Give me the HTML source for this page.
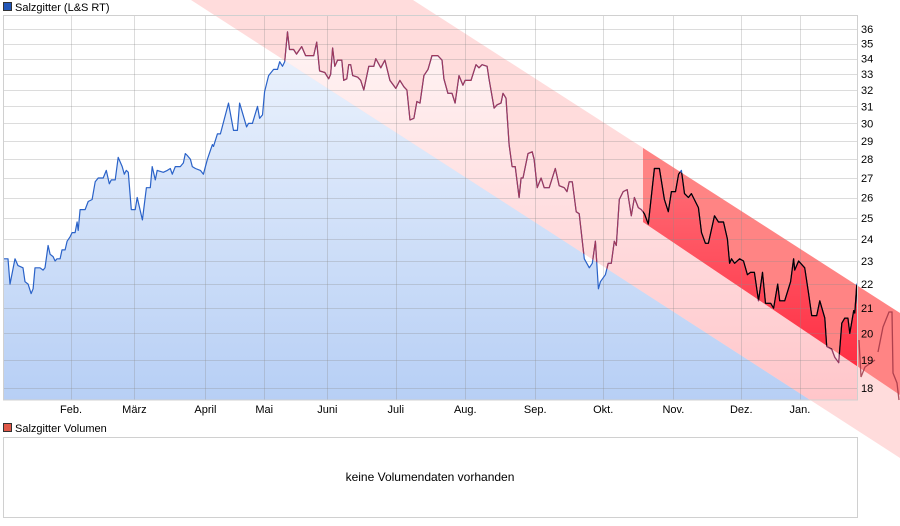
<!DOCTYPE html>
<html><head><meta charset="utf-8"><style>
html,body{margin:0;padding:0;background:#fff;}
svg{display:block;font-family:"Liberation Sans",Arial,sans-serif;}
</style></head><body>
<svg id="chart" width="900" height="526" viewBox="0 0 900 526" xmlns="http://www.w3.org/2000/svg">
<defs>
<clipPath id="plotClip"><rect x="3" y="16" width="855" height="384"/></clipPath>
<clipPath id="lightClip"><polygon points="413,0 900,313 900,458 191,0"/></clipPath>
<clipPath id="darkClip"><polygon points="643,148 900,313 900,395 643,222"/></clipPath>
<linearGradient id="blueGrad" gradientUnits="userSpaceOnUse" x1="0" y1="30" x2="0" y2="400"><stop offset="0" stop-color="#eef4fd"/><stop offset="1" stop-color="#b7cff5"/></linearGradient>
<linearGradient id="pinkGrad" gradientUnits="userSpaceOnUse" x1="0" y1="30" x2="0" y2="400"><stop offset="0" stop-color="#fff5f5"/><stop offset="1" stop-color="#ffc6ca"/></linearGradient>
<linearGradient id="redGrad" gradientUnits="userSpaceOnUse" x1="0" y1="160" x2="0" y2="380"><stop offset="0" stop-color="#ff7078"/><stop offset="1" stop-color="#ff2a40"/></linearGradient>
</defs>
<rect x="0" y="0" width="900" height="526" fill="#fff"/>
<g id="layers"></g>
<rect x="3.5" y="2.5" width="8" height="8" fill="#2256b8" stroke="#333"/>
<text x="15" y="11" font-size="11" fill="#000">Salzgitter (L&amp;S RT)</text>
<rect x="3.5" y="423.5" width="8" height="8" fill="#e05848" stroke="#333"/>
<text x="15" y="432" font-size="11" fill="#000">Salzgitter Volumen</text>
<rect x="3.5" y="437.5" width="854" height="80" fill="#fff" stroke="#d0d0d0"/>
<text x="430" y="481" font-size="12" text-anchor="middle" fill="#000">keine Volumendaten vorhanden</text>
</svg>
<script>
const priceT=[0,2.3,3.2,5.5,6.9,9.2,10.1,11.5,12.9,13.8,14.7,17,18.4,19.3,20.7,21.6,23,23.9,24.8,26.2,27.1,28.5,29.4,30.8,31.7,33.1,34,34.5,35.4,37.7,39.1,40.9,42.3,43.7,46,47.4,48.8,49.7,51.5,52.9,54.7,55.7,56.6,57.5,58.9,60.7,61.6,64,65.8,67.6,68.5,69.9,70.8,73.6,75.4,76.8,77.7,79.1,81.4,82.8,83.7,84.6,86,86.9,88.3,90.6,92,93.8,96.1,96.6,98.4,99.8,103.5,105.8,107.6,108.6,111.8,112.7,114.5,116.8,117.8,119.1,120.1,121.9,124.2,126,127,128.3,129.3,130.6,131.5,133.4,134.7,137.1,138.9,142.6,144,145.3,147.7,149.5,150.4,151.3,152.3,153.6,155.5,156.4,157.8,158.7,159.6,160.5,162.8,164.2,165.6,167.9,170.2,171.1,173.4,175.3,177.6,180.3,182.2,184,185.4,186.8,188.6,190,191.4,193.2,195.1,196.9,199.6,201.5,202.4,204.2,206.1,207.5,209.3,211.1,212.1,214.8,217.1,218.5,219.9,222.2,223.1,225.4,226.8,228.6,229.5,230.9,232.3,233.7,235.1,236.9,237.8,238.7,241,242.9,243.8,245.2,247,248.4,250.7,253.5,255.3,257.6,258.9,259.9,261.3,263.1,264.5,266.8,269.1,270.5,271.9,273.3,274.2,276.5,277.8,279.2,280.6,281.5,282.9,284.7,286.5,288.4,289.8,291.6,293,294.4,296.2,299,301.3,303.6,305.4,306.8,308.7,310.1,311.4,312.8,314.6,316,319.2,320.6,322.4,323.8,326.6,328.4,330.7,332.5,333.5,334.4,335.8,338.1,339.9,341.7,343.1,344.9,346.8,348.6,350,352.4,353.7,355.6,356.5,358.8,361.5,362.9,363.4,365.2,368,369.8,371.2,373.5,374.9,377.2,378.1,380.4,381.8,383.6,385,386.4,387.8,388.7,390.5,391,391.9,392.8];
const priceV=[23.1,23.1,22.0,23.1,22.8,22.7,22.1,22.0,21.6,21.8,22.7,22.7,22.6,22.7,23.7,23.3,23.2,23.0,23.1,23.1,23.5,23.5,23.9,24.1,24.3,24.3,24.8,24.4,25.4,25.4,25.8,25.9,26.8,27.0,27.0,27.4,26.7,26.9,26.9,28.1,27.6,27.2,27.4,27.3,25.4,25.4,26.0,24.9,26.5,26.5,27.6,26.9,27.4,27.3,27.4,27.5,27.2,27.6,27.6,27.8,28.3,28.2,28.0,27.6,27.5,27.4,27.2,28.0,28.8,28.7,29.4,29.4,31.2,29.6,29.6,31.2,29.8,30.0,30.0,31.0,30.3,30.5,31.9,32.9,33.3,33.3,33.8,33.5,33.8,35.8,34.6,34.6,34.3,34.8,34.2,34.2,35.1,33.2,33.1,32.7,33.0,34.7,33.5,33.9,33.9,32.6,32.7,33.6,33.6,32.9,32.8,32.6,32.0,33.5,33.5,34.0,33.4,33.9,32.6,32.1,32.6,32.2,32.0,30.2,30.3,31.3,31.2,32.9,33.3,34.2,34.2,33.9,32.7,31.8,31.8,31.2,32.9,32.3,32.6,32.6,33.6,33.4,33.6,33.5,32.7,30.9,31.1,31.2,31.8,31.5,28.8,27.6,27.6,26.0,27.0,27.0,28.3,28.4,28.0,26.5,27.0,26.5,26.5,27.5,26.6,26.5,26.3,26.8,26.8,25.3,25.2,23.1,22.7,22.9,23.9,21.8,22.1,22.4,22.9,22.9,23.9,23.7,25.9,26.3,26.4,25.1,26.0,25.5,25.4,25.2,24.7,27.5,27.5,25.9,25.3,26.3,26.3,27.2,27.4,26.2,26.0,26.2,25.5,24.3,23.8,23.8,25.1,24.8,24.8,24.0,22.9,23.1,22.9,23.1,23.0,22.4,22.5,22.5,21.3,22.5,21.2,21.2,21.0,22.0,21.3,21.3,22.1,23.1,22.6,23.0,22.7,21.6,20.7,20.7,21.3,20.6,19.5,19.4,19.1,18.9,20.4,20.6,20.6,20.0,20.9,20.8,22.0,19.9];
const yTicks=[18,19,20,21,22,23,24,25,26,27,28,29,30,31,32,33,34,35,36];
const monthLabels=["Feb.","März","April","Mai","Juni","Juli","Aug.","Sep.","Okt.","Nov.","Dez.","Jan."];
const monthT=[31.2,60.3,92.9,119.9,148.9,180.3,212.2,244.3,275.5,307.7,338.9,365.8];

const NS="http://www.w3.org/2000/svg";
const X0=3,PX=2.1786,PL=3,PR=858,PT=16,PB=400;
function xs(t){return X0+t*PX;}
function ys(v){return 29+Math.log(36/v)/Math.LN2*359;}
const layers=document.getElementById('layers');
function mk(tag,attrs,parent){const e=document.createElementNS(NS,tag);for(const k in attrs)e.setAttribute(k,attrs[k]);(parent||layers).appendChild(e);return e;}

let lineD="";
for(let i=0;i<priceT.length;i++){lineD+=(i?"L":"M")+xs(priceT[i]).toFixed(1)+","+ys(priceV[i]).toFixed(1);}
const lastX=xs(priceT[priceT.length-1]).toFixed(1),firstX=xs(priceT[0]).toFixed(1);
const areaD=lineD+"L"+lastX+","+PB+"L"+firstX+","+PB+"Z";

// blue area
const gA=mk('g',{'clip-path':'url(#plotClip)'});
const a1=mk('path',{d:areaD,fill:'url(#blueGrad)'},gA);


// light band
const lb=mk('polygon',{points:'413,0 900,313 900,458 191,0',fill:'#ffdcdc'});


const gB=mk('g',{'clip-path':'url(#plotClip)'});
const a2=mk('path',{d:areaD,fill:'url(#pinkGrad)','clip-path':'url(#lightClip)'},gB);


// dark band
const db=mk('polygon',{points:'643,148 900,313 900,395 643,222',fill:'#ff8484'});


const gC=mk('g',{'clip-path':'url(#plotClip)'});
const a3=mk('path',{d:areaD,fill:'url(#redGrad)','clip-path':'url(#darkClip)'},gC);



// grid
const grid=mk('g',{stroke:'rgba(140,140,140,0.3)','stroke-width':'1'});


yTicks.forEach(v=>{const y=Math.round(ys(v))+0.5;const l=mk('line',{x1:PL,x2:PR,y1:y,y2:y},grid);

});
monthT.forEach(t=>{const x=Math.round(xs(t))+0.5;const l=mk('line',{x1:x,x2:x,y1:PT,y2:PB},grid);

});

// lines
const gL=mk('g',{'clip-path':'url(#plotClip)',fill:'none','stroke-width':'1.2','stroke-linejoin':'round'});
const l1=mk('path',{d:lineD,stroke:'#2a62c8'},gL);


const l2=mk('path',{d:lineD,stroke:'#a0385a','clip-path':'url(#lightClip)'},gL);


const l3=mk('path',{d:lineD,stroke:'#000','clip-path':'url(#darkClip)'},gL);



// border
const bd=mk('rect',{x:PL+0.5,y:PT-0.5,width:PR-PL-1,height:PB-PT+0.5,fill:'none',stroke:'#d0d0d0'});



// right-edge extension stroke
const ext=mk('path',{d:'M859,340L861,377L865,367L875,360M878,352L883,327L889,312L892,312L893,373L897,383L899,400',fill:'none',stroke:'#9a3040','stroke-width':'1.3','stroke-opacity':'0.8'});



// labels
yTicks.forEach(v=>{const t=mk('text',{x:861,y:(ys(v)+4).toFixed(1),'font-size':'11',fill:'#000'});t.textContent=String(v);

});
monthT.forEach((m,i)=>{const t=mk('text',{x:xs(m).toFixed(1),y:413,'font-size':'11','text-anchor':'middle',fill:'#000'});t.textContent=monthLabels[i];

});
</script>
</body></html>
